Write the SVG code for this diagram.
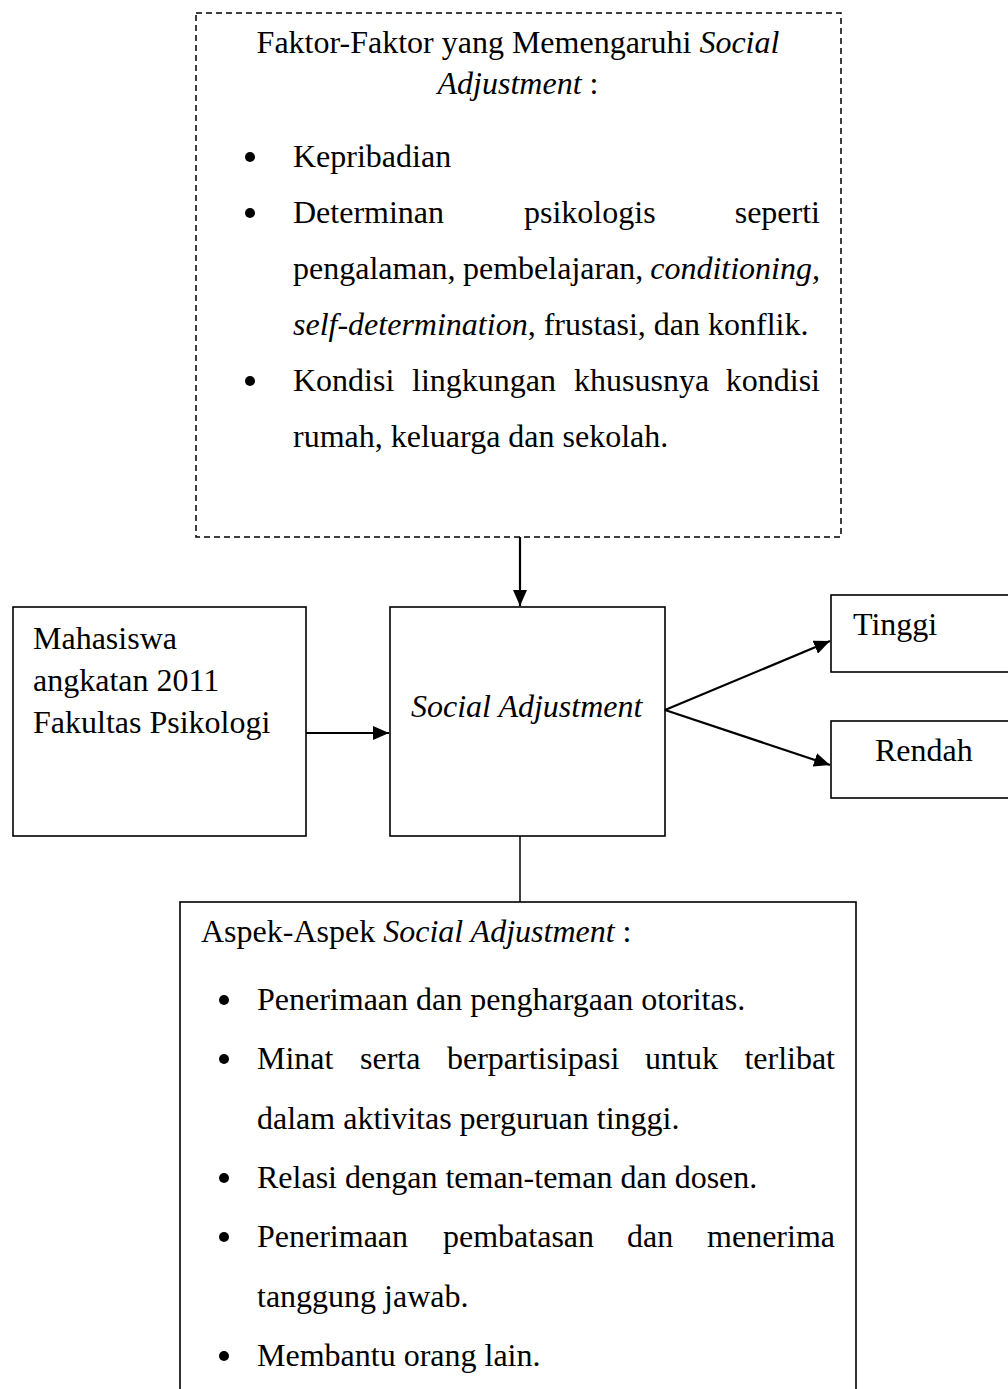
<svg xmlns="http://www.w3.org/2000/svg" width="1008" height="1389" viewBox="0 0 1008 1389">
<style>
  text { font-family: "Liberation Serif", "Times New Roman", serif; font-size: 32px; fill: #000; }
  .i { font-style: italic; }
  .box { fill: #fff; stroke: #000; stroke-width: 1.6; }
  .dash { fill: #fff; stroke: #000; stroke-width: 1.5; stroke-dasharray: 6 4; }
  .conn { fill: none; stroke: #000; stroke-width: 2.2; }
  .line { fill: none; stroke: #000; stroke-width: 1.5; }
  .bul { fill: #000; }
</style>
<defs>
  <marker id="arr" markerUnits="userSpaceOnUse" markerWidth="18" markerHeight="14" refX="16" refY="7" orient="auto">
    <path d="M0,0 L16,7 L0,14 Z" fill="#000"/>
  </marker>
</defs>
<rect width="1008" height="1389" fill="#fff"/>

<g id="faktor">
  <rect class="dash" x="196" y="13" width="645" height="524"/>
  <text x="518" y="53" text-anchor="middle">Faktor-Faktor yang Memengaruhi <tspan class="i">Social</tspan></text>
  <text x="518" y="94" text-anchor="middle"><tspan class="i">Adjustment</tspan> :</text>
  <circle class="bul" cx="250" cy="157" r="5"/>
  <text x="293" y="167">Kepribadian</text>
  <circle class="bul" cx="250" cy="213" r="5"/>
  <text y="223"><tspan x="293">Determinan</tspan><tspan x="524">psikologis</tspan></text>
  <text x="820" y="223" text-anchor="end">seperti</text>
  <text y="279"><tspan x="293">pengalaman,</tspan><tspan x="463">pembelajaran,</tspan></text>
  <text x="820" y="279" text-anchor="end" class="i">conditioning,</text>
  <text x="293" y="335"><tspan class="i">self-determination</tspan>, frustasi, dan konflik.</text>
  <circle class="bul" cx="250" cy="381" r="5"/>
  <text y="391"><tspan x="293">Kondisi</tspan><tspan x="412">lingkungan</tspan><tspan x="574">khususnya</tspan></text>
  <text x="820" y="391" text-anchor="end">kondisi</text>
  <text x="293" y="447">rumah, keluarga dan sekolah.</text>
</g>

<g id="mahasiswa">
  <rect class="box" x="13" y="607" width="293" height="229"/>
  <text x="33" y="649">Mahasiswa</text>
  <text x="33" y="691">angkatan 2011</text>
  <text x="33" y="733">Fakultas Psikologi</text>
</g>

<g id="social">
  <rect class="box" x="390" y="607" width="275" height="229"/>
  <text x="411" y="717" class="i">Social Adjustment</text>
</g>

<g id="tinggi">
  <rect class="box" x="831" y="595" width="200" height="77"/>
  <text x="853" y="635">Tinggi</text>
</g>

<g id="rendah">
  <rect class="box" x="831" y="721" width="200" height="77"/>
  <text x="875" y="761">Rendah</text>
</g>

<g id="aspek">
  <rect class="box" x="180" y="902" width="676" height="520"/>
  <text x="201" y="942">Aspek-Aspek <tspan class="i">Social Adjustment</tspan> :</text>
  <circle class="bul" cx="224" cy="1000" r="5"/>
  <text x="257" y="1010">Penerimaan dan penghargaan otoritas.</text>
  <circle class="bul" cx="224" cy="1059" r="5"/>
  <text y="1069"><tspan x="257">Minat</tspan><tspan x="360">serta</tspan><tspan x="447">berpartisipasi</tspan><tspan x="645">untuk</tspan></text>
  <text x="835" y="1069" text-anchor="end">terlibat</text>
  <text x="257" y="1129">dalam aktivitas perguruan tinggi.</text>
  <circle class="bul" cx="224" cy="1178" r="5"/>
  <text x="257" y="1188">Relasi dengan teman-teman dan dosen.</text>
  <circle class="bul" cx="224" cy="1237" r="5"/>
  <text y="1247"><tspan x="257">Penerimaan</tspan><tspan x="443">pembatasan</tspan><tspan x="627">dan</tspan></text>
  <text x="835" y="1247" text-anchor="end">menerima</text>
  <text x="257" y="1307">tanggung jawab.</text>
  <circle class="bul" cx="224" cy="1356" r="5"/>
  <text x="257" y="1366">Membantu orang lain.</text>
</g>

<g id="connectors">
  <line class="conn" x1="520" y1="537" x2="520" y2="606" marker-end="url(#arr)"/>
  <line class="conn" x1="306" y1="733" x2="389" y2="733" marker-end="url(#arr)"/>
  <line class="conn" x1="665" y1="710" x2="830" y2="641" marker-end="url(#arr)"/>
  <line class="conn" x1="665" y1="710" x2="830" y2="765" marker-end="url(#arr)"/>
  <line class="line" x1="520" y1="836" x2="520" y2="902"/>
</g>
</svg>
